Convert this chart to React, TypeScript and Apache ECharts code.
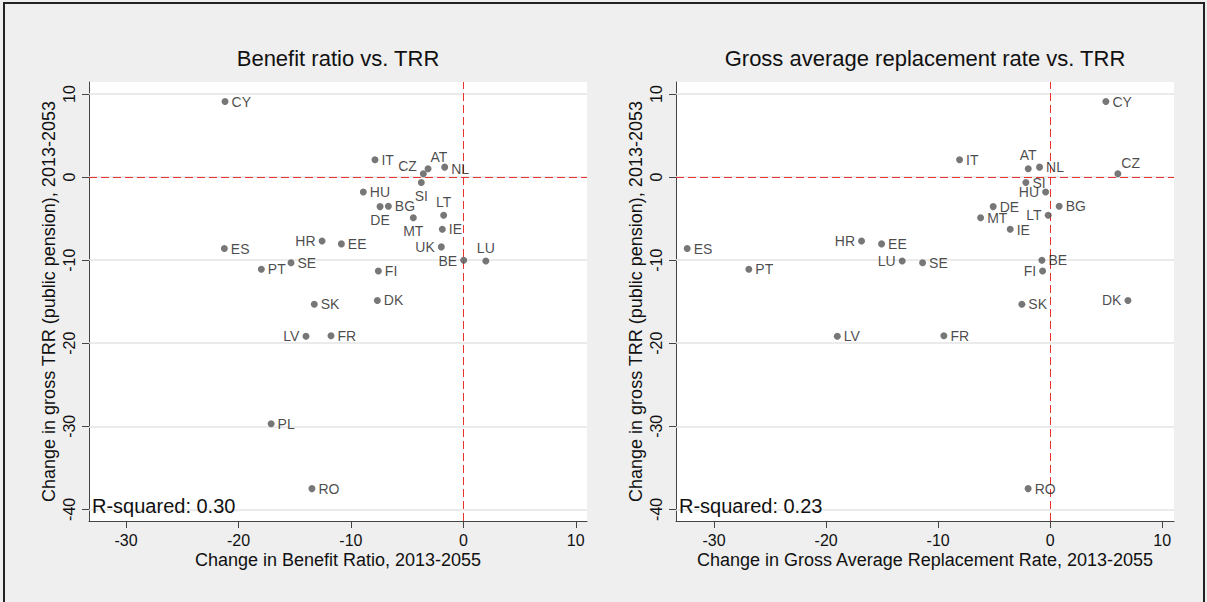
import React, { useEffect, useRef } from "react";
import * as echarts from "echarts";

// ---------- DATA ----------
const countries = ["CY", "IT", "CZ", "AT", "NL", "SI", "HU", "DE", "BG", "MT", "LT", "IE", "UK", "BE", "LU", "HR", "EE", "ES", "SE", "PT", "FI", "SK", "DK", "LV", "FR", "PL", "RO"];
// Change in gross TRR (public pension), 2013-2053
const trrChange = [9.1, 2.1, 0.4, 1.0, 1.2, -0.65, -1.8, -3.55, -3.5, -4.9, -4.6, -6.27, -8.4, -10.0, -10.1, -7.7, -8.04, -8.6, -10.3, -11.1, -11.3, -15.3, -14.85, -19.15, -19.1, -29.7, -37.5];
// Change in Benefit Ratio, 2013-2055
const benefitRatioChange = [-21.2, -7.86, -3.56, -3.14, -1.66, -3.74, -8.9, -7.41, -6.67, -4.45, -1.75, -1.87, -1.96, 0.03, 2.0, -12.57, -10.85, -21.26, -15.33, -17.97, -7.56, -13.26, -7.65, -14.0, -11.77, -17.1, -13.47];
// Change in Gross Average Replacement Rate, 2013-2055 (no UK, PL)
const grossArrChange = [4.97, -8.09, 6.04, -1.96, -0.95, -2.17, -0.41, -5.09, 0.8, -6.21, -0.18, -3.57, null, -0.74, -13.21, -16.84, -15.05, -32.4, -11.39, -26.9, -0.68, -2.53, 6.94, -19.0, -9.49, null, -1.97];

const xTicks = [-30, -20, -10, 0, 10];
const yTicks = [-40, -30, -20, -10, 0, 10];

const titles = ["Benefit ratio vs. TRR", "Gross average replacement rate vs. TRR"];
const xNames = ["Change in Benefit Ratio, 2013-2055", "Change in Gross Average Replacement Rate, 2013-2055"];
const yName = "Change in gross TRR (public pension), 2013-2053";
const rSquared = ["0.30", "0.23"];

// ---------- label placement (style) ----------
const leftPlacement: Record<string, any> = {
  CZ: { position: "left", offset: [0, -8] },
  AT: { position: "right", offset: [-4, -12] },
  NL: { position: "right", offset: [0, 2] },
  SI: { position: "bottom" },
  DE: { position: "bottom" },
  MT: { position: "bottom" },
  LT: { position: "top" },
  UK: { position: "left" },
  BE: { position: "left", offset: [0, 1] },
  LU: { position: "top" },
  HR: { position: "left" },
  LV: { position: "left" },
};
const rightPlacement: Record<string, any> = {
  CZ: { position: "right", offset: [-3, -11] },
  AT: { position: "top" },
  HU: { position: "left" },
  LT: { position: "left" },
  HR: { position: "left" },
  LU: { position: "left" },
  FI: { position: "left" },
  DK: { position: "left" },
  IE: { position: "right", offset: [0, 1] },
};

const FONT = '"Liberation Sans", Arial, sans-serif';
const RED = "#e8332e";

export default function App() {
  const ref = useRef<HTMLDivElement>(null);

  useEffect(() => {
    if (!ref.current) return;
    const chart = echarts.init(ref.current, null, { renderer: "svg" });

    const grids = [
      { left: 89, top: 82, width: 498, height: 439 },
      { left: 676, top: 82, width: 498, height: 439 },
    ];
    const xRanges = [
      [-33.3, 11.0],
      [-33.4, 11.05],
    ];

    const makeData = (xs: (number | null)[], placement: Record<string, any>) =>
      countries
        .map((c, i) => {
          if (xs[i] === null || xs[i] === undefined) return null;
          const p = placement[c] || { position: "right" };
          return { name: c, value: [xs[i], trrChange[i]], label: { ...p } };
        })
        .filter((d) => d !== null);

    const xAxes = [0, 1].map((g) => ({
      type: "value",
      gridIndex: g,
      min: xRanges[g][0],
      max: xRanges[g][1],
      name: xNames[g],
      nameLocation: "middle",
      nameGap: 30,
      nameMoveOverlap: false,
      nameTextStyle: { fontFamily: FONT, fontSize: 18, color: "#111" },
      axisLine: { show: true, onZero: false, lineStyle: { color: "#444", width: 1 } },
      axisTick: { show: true, length: 7, customValues: xTicks, lineStyle: { color: "#444" } },
      axisLabel: { customValues: xTicks, margin: 11, fontFamily: FONT, fontSize: 16, color: "#111" },
      splitLine: { show: false },
    }));

    const yAxes = [0, 1].map((g) => ({
      type: "value",
      gridIndex: g,
      min: -41.4,
      max: 11.45,
      name: yName,
      nameLocation: "middle",
      nameGap: 31,
      nameMoveOverlap: false,
      nameTextStyle: { fontFamily: FONT, fontSize: 18, color: "#111" },
      axisLine: { show: true, onZero: false, lineStyle: { color: "#444", width: 1 } },
      axisTick: { show: true, length: 7, customValues: yTicks, lineStyle: { color: "#444" } },
      axisLabel: { customValues: yTicks, rotate: 90, margin: 12, fontFamily: FONT, fontSize: 16, color: "#111" },
      splitLine: { show: false },
    }));

    const series: any[] = [];
    [0, 1].forEach((g) => {
      series.push({
        type: "line",
        xAxisIndex: g,
        yAxisIndex: g,
        data: [],
        z: 1,
        markLine: {
          z: 1,
          silent: true,
          symbol: "none",
          label: { show: false },
          lineStyle: { color: "#e4e4e4", width: 1.5, type: "solid" },
          data: yTicks.map((v) => ({ yAxis: v })),
        },
      });
      series.push({
        type: "line",
        xAxisIndex: g,
        yAxisIndex: g,
        data: [],
        z: 2,
        markLine: {
          z: 2,
          silent: true,
          symbol: "none",
          label: { show: false },
          lineStyle: { color: RED, width: 1, type: [8, 4] },
          data: [{ yAxis: 0 }, { xAxis: 0 }],
        },
      });
      series.push({
        type: "scatter",
        xAxisIndex: g,
        yAxisIndex: g,
        z: 6,
        symbol: "circle",
        symbolSize: 7,
        itemStyle: { color: "#555555" },
        label: {
          show: true,
          formatter: "{b}",
          position: "right",
          distance: 3,
          fontFamily: FONT,
          fontSize: 14,
          color: "#1a1a1a",
        },
        data: makeData(g === 0 ? benefitRatioChange : grossArrChange, g === 0 ? leftPlacement : rightPlacement),
      });
    });

    const graphics: any[] = [
      {
        type: "rect",
        shape: { x: 4, y: 3, width: 1200, height: 620 },
        style: { fill: "none", stroke: "#222", lineWidth: 2 },
        silent: true,
      },
    ];
    [0, 1].forEach((g) => {
      const cx = grids[g].left + grids[g].width / 2;
      graphics.push({
        type: "text",
        x: cx,
        y: 58,
        style: { text: titles[g], align: "center", verticalAlign: "middle", font: `22px ${FONT}`, fill: "#111" },
      });
      graphics.push({
        type: "text",
        x: grids[g].left + 3,
        y: 496,
        z: 10,
        style: { text: `R-squared: ${rSquared[g]}`, align: "left", verticalAlign: "top", font: `20px ${FONT}`, fill: "#111" },
      });
    });

    chart.setOption({
      animation: false,
      backgroundColor: "#efefef",
      grid: grids.map((g) => ({ ...g, show: true, backgroundColor: "#ffffff", borderWidth: 0 })),
      xAxis: xAxes,
      yAxis: yAxes,
      series,
      graphic: graphics,
    });

    return () => chart.dispose();
  }, []);

  return <div ref={ref} style={{ position: "absolute", left: 0, top: 0, width: 1207, height: 602 }} />;
}
